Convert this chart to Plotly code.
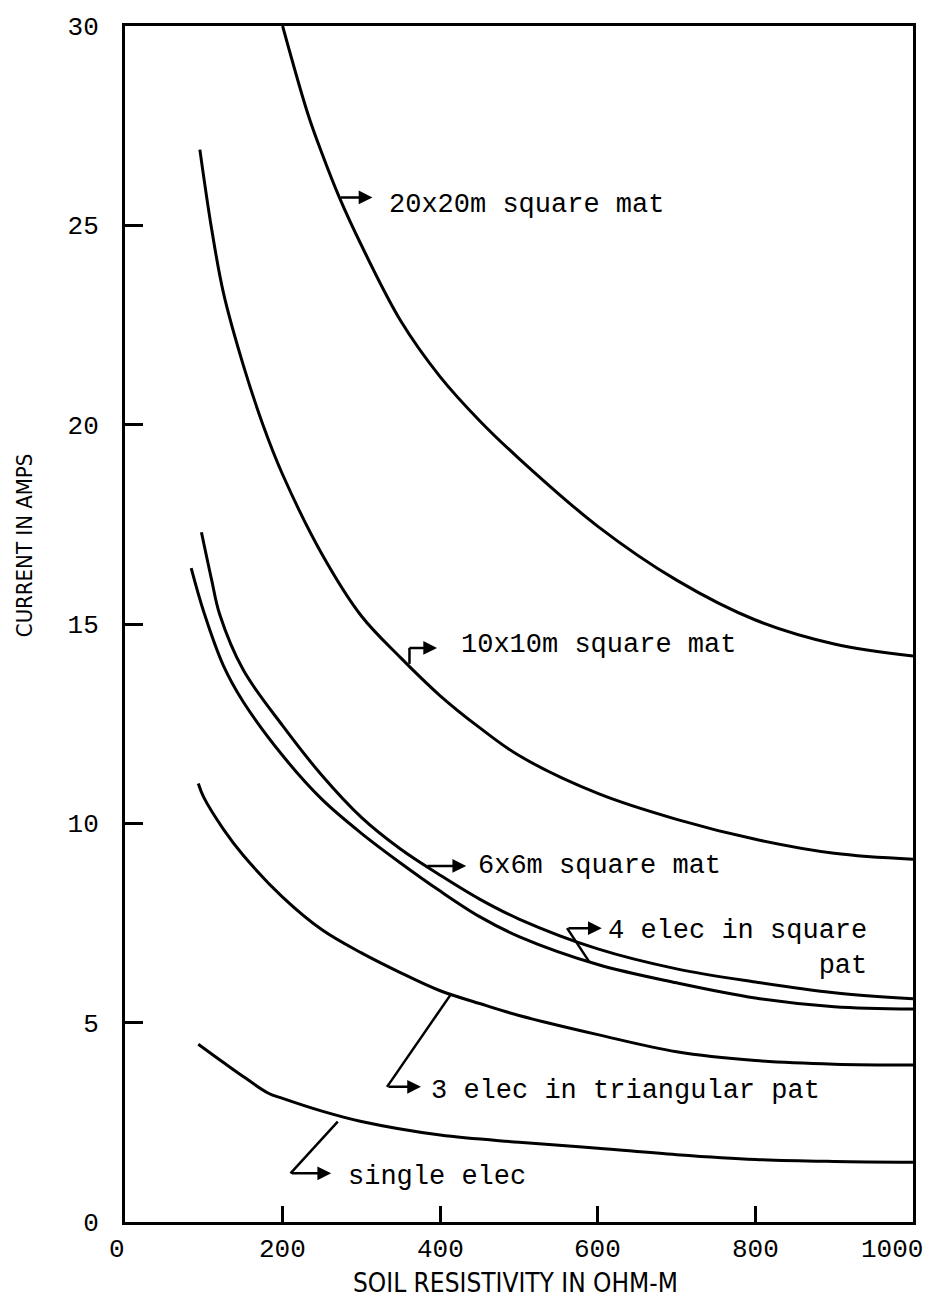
import plotly.graph_objects as go

# Soil resistivity (ohm-m) vs. current (amps) for each grounding arrangement
mat20_x = [200, 232, 250, 272, 300, 350, 400, 450, 500, 600, 700, 800, 900, 1000]
mat20_y = [30.0, 27.8, 26.8, 25.7, 24.5, 22.6, 21.2, 20.1, 19.15, 17.45, 16.1, 15.1, 14.5, 14.2]

mat10_x = [95, 110, 125, 150, 175, 200, 250, 300, 350, 400, 450, 500, 600, 700, 800, 900, 1000]
mat10_y = [26.9, 24.9, 23.3, 21.5, 20.0, 18.75, 16.75, 15.2, 14.15, 13.2, 12.4, 11.7, 10.75, 10.1, 9.6, 9.25, 9.1]

mat6_x = [97, 110, 120, 150, 200, 250, 300, 350, 400, 450, 500, 600, 700, 800, 900, 1000]
mat6_y = [17.3, 16.1, 15.25, 13.85, 12.45, 11.2, 10.15, 9.35, 8.7, 8.1, 7.6, 6.85, 6.35, 6.02, 5.75, 5.6]

sq4_x = [84, 100, 125, 150, 200, 250, 300, 350, 400, 450, 500, 600, 700, 800, 900, 1000]
sq4_y = [16.4, 15.3, 13.95, 13.05, 11.7, 10.6, 9.75, 9.0, 8.3, 7.66, 7.16, 6.46, 6.0, 5.62, 5.4, 5.34]

tri3_x = [93, 100, 125, 150, 200, 250, 300, 350, 400, 450, 500, 600, 700, 800, 900, 1000]
tri3_y = [11.0, 10.65, 9.85, 9.2, 8.15, 7.33, 6.75, 6.25, 5.8, 5.48, 5.18, 4.7, 4.27, 4.05, 3.96, 3.94]

single_x = [93, 125, 150, 182, 200, 250, 300, 400, 500, 600, 700, 800, 900, 1000]
single_y = [4.46, 4.0, 3.65, 3.23, 3.1, 2.78, 2.52, 2.18, 2.0, 1.85, 1.69, 1.57, 1.52, 1.5]

x_ticks = [0, 200, 400, 600, 800, 1000]
y_ticks = [0, 5, 10, 15, 20, 25, 30]

# Curve labels: leader polyline (curve -> corner), arrow (corner -> tip), text anchor
labels = [
    dict(text="20x20m square mat", leader=[(272, 25.7)], tail=(272, 25.7), tip=(314, 25.7), pos=(332, 25.5)),
    dict(text="10x10m square mat", leader=[(361, 14.0), (361, 14.4)], tail=(359, 14.4), tip=(396, 14.4), pos=(424, 14.47)),
    dict(text="6x6m square mat", leader=[(382, 8.93)], tail=(382, 8.93), tip=(433, 8.93), pos=(446, 8.93)),
    dict(text="4 elec in square<br>pat", leader=[(589, 6.53), (561, 7.37)], tail=(561, 7.37), tip=(605, 7.37), pos=(611, 6.85)),
    dict(text="3 elec in triangular pat", leader=[(413.5, 5.71), (332.5, 3.39)], tail=(332.5, 3.39), tip=(375.6, 3.39), pos=(386, 3.29)),
    dict(text="single elec", leader=[(270, 2.52), (210, 1.22)], tail=(210, 1.22), tip=(261.6, 1.22), pos=(280.6, 1.14)),
]

MONO = "Liberation Mono, DejaVu Sans Mono, monospace"
NARROW = "Liberation Sans Narrow, DejaVu Sans Condensed, Liberation Sans, sans-serif"

fig = go.Figure()
for xs, ys in [(mat20_x, mat20_y), (mat10_x, mat10_y), (mat6_x, mat6_y),
               (sq4_x, sq4_y), (tri3_x, tri3_y), (single_x, single_y)]:
    fig.add_trace(go.Scatter(x=xs, y=ys, mode="lines",
                             line=dict(color="black", width=3, shape="spline", smoothing=1.0),
                             hoverinfo="skip", showlegend=False))

annotations = []
for lab in labels:
    if len(lab["leader"]) > 1:
        fig.add_trace(go.Scatter(x=[p[0] for p in lab["leader"]], y=[p[1] for p in lab["leader"]],
                                 mode="lines", line=dict(color="black", width=2.5),
                                 hoverinfo="skip", showlegend=False))
    annotations.append(dict(x=lab["tip"][0], y=lab["tip"][1], ax=lab["tail"][0], ay=lab["tail"][1],
                            xref="x", yref="y", axref="x", ayref="y", text="",
                            showarrow=True, arrowhead=2, arrowsize=1.1, arrowwidth=2.5,
                            arrowcolor="black", standoff=0, startstandoff=0))
    annotations.append(dict(x=lab["pos"][0], y=lab["pos"][1], xref="x", yref="y",
                            text=lab["text"], showarrow=False, xanchor="left", yanchor="middle",
                            align="right", font=dict(family=MONO, size=27, color="black")))

# x tick labels drawn under each tick value; the last one sits inside the page edge
for v in x_ticks:
    anchor, shift = "center", 0
    if v == x_ticks[0]:
        shift = -8
    if v == x_ticks[-1]:
        anchor, shift = "right", 12
    annotations.append(dict(x=v, y=0, xref="x", yref="y", text=str(v), showarrow=False,
                            xanchor=anchor, yanchor="top", xshift=shift, yshift=-11,
                            font=dict(family=MONO, size=26, color="black")))

annotations.append(dict(x=0.496, y=-0.051, xref="paper", yref="paper", text="SOIL RESISTIVITY IN OHM-M",
                        showarrow=False, xanchor="center", yanchor="middle",
                        font=dict(family=NARROW, size=26, color="black")))
annotations.append(dict(x=-0.128, y=0.566, xref="paper", yref="paper", text="CURRENT IN AMPS",
                        showarrow=False, xanchor="center", yanchor="middle", textangle=-90,
                        font=dict(family=NARROW, size=22, color="black")))

fig.update_layout(
    width=933, height=1310,
    margin=dict(l=125, r=20, t=26, b=88),
    paper_bgcolor="white", plot_bgcolor="white",
    annotations=annotations,
    font=dict(family=MONO, color="black"),
)
fig.update_xaxes(range=[0, 1000], tickvals=x_ticks[1:-1], showticklabels=False,
                 ticks="inside", ticklen=16, tickwidth=3, tickcolor="black",
                 showline=True, linewidth=3, linecolor="black", mirror=True,
                 showgrid=False, zeroline=False)
fig.update_yaxes(range=[0, 30], tickvals=y_ticks, ticktext=[str(v) for v in y_ticks],
                 ticks="inside", ticklen=18, tickwidth=3, tickcolor="black",
                 showline=True, linewidth=3, linecolor="black", mirror=True,
                 showgrid=False, zeroline=False, ticklabelstandoff=18,
                 tickfont=dict(family=MONO, size=26, color="black"))

fig.write_html("out.html")
